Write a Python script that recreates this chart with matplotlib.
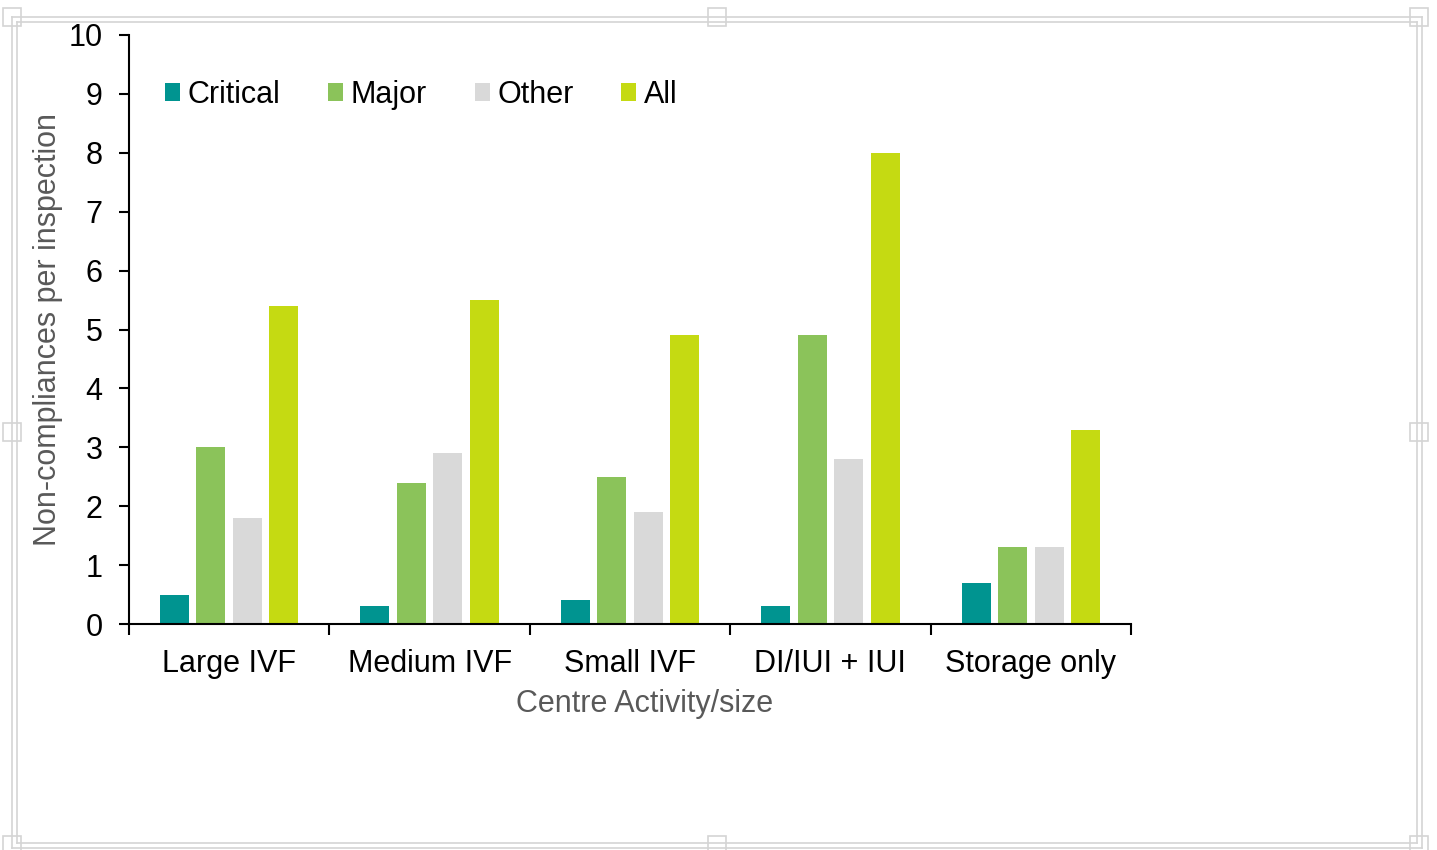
import numpy as np
import matplotlib
matplotlib.use('Agg')
from matplotlib import pyplot as plt
from matplotlib.patches import Rectangle
from matplotlib.lines import Line2D

categories = ['Large IVF', 'Medium IVF', 'Small IVF', 'DI/IUI + IUI', 'Storage only']
series = ['Critical', 'Major', 'Other', 'All']
critical = [0.5, 0.3, 0.4, 0.3, 0.7]
major = [3.0, 2.4, 2.5, 4.9, 1.3]
other = [1.8, 2.9, 1.9, 2.8, 1.3]
all_nc = [5.4, 5.5, 4.9, 8.0, 3.3]
colors = ['#009490', '#8BC35A', '#D9D9D9', '#C5DA12']
yticks = list(range(0, 11))


def main():
    plt.rcParams['font.family'] = ['Liberation Sans', 'DejaVu Sans']
    W, H = 1437, 850
    fs = 22
    fig = plt.figure(figsize=(W / 100, H / 100), dpi=100)
    ax = fig.add_axes([129 / W, 1 - 624 / H, (1131 - 129) / W, (624 - 35) / H])

    x = np.arange(len(categories))
    step = 0.182
    width = 0.145
    for i, (vals, c, name) in enumerate(zip([critical, major, other, all_nc], colors, series)):
        ax.bar(x + (i - 1.5) * step, vals, width, color=c, label=name, zorder=2)

    ax.set_xlim(-0.5, len(categories) - 0.5)
    ax.set_ylim(0, 10)
    ax.set_yticks(yticks)
    ax.tick_params(axis='y', labelsize=fs, length=7, width=1.5, direction='out', pad=12)
    ax.set_xticks(x)
    ax.set_xticklabels(categories, fontsize=fs)
    ax.tick_params(axis='x', length=0, pad=18)
    ax.set_xticks(np.arange(len(categories) + 1) - 0.5, minor=True)
    ax.tick_params(axis='x', which='minor', length=8, width=1.5, direction='out')
    for s in ['top', 'right']:
        ax.spines[s].set_visible(False)
    for s in ['left', 'bottom']:
        ax.spines[s].set_linewidth(1.5)

    ax.set_ylabel('Non-compliances per inspection', fontsize=fs, color='#595959', labelpad=4)
    fig.text(645 / W, 1 - 704 / H, 'Centre Activity/size', fontsize=fs, color='#595959',
             ha='center', va='center')

    ax.legend(loc='center left', bbox_to_anchor=((165 - 129) / 1002, (624 - 95) / 589), ncol=4,
              frameon=False, fontsize=fs, handlelength=0.5, handleheight=0.5, handletextpad=0.25,
              columnspacing=1.55, borderpad=0, borderaxespad=0)

    # selection frame around the chart object
    g = '#D4D4D4'
    for off in (0, 5):
        fig.add_artist(Line2D([(12 + off) / W, (1422 - off) / W], [1 - (17 + off) / H] * 2, color=g, lw=1.2))
        fig.add_artist(Line2D([(12 + off) / W, (1422 - off) / W], [1 - (848 - off) / H] * 2, color=g, lw=1.2))
        fig.add_artist(Line2D([(12 + off) / W] * 2, [1 - (17 + off) / H, 1 - (848 - off) / H], color=g, lw=1.2))
        fig.add_artist(Line2D([(1422 - off) / W] * 2, [1 - (17 + off) / H, 1 - (848 - off) / H], color=g, lw=1.2))
    s = 18
    for hx in (12, 717, 1419):
        for hy in (17, 432, 845):
            if hx == 717 and hy == 432:
                continue
            fig.add_artist(Rectangle(((hx - s / 2) / W, 1 - (hy + s / 2) / H), s / W, s / H,
                                     facecolor='white', edgecolor=g, lw=1.2))

    fig.savefig('out.png', dpi=100)


if __name__ == '__main__':
    main()
